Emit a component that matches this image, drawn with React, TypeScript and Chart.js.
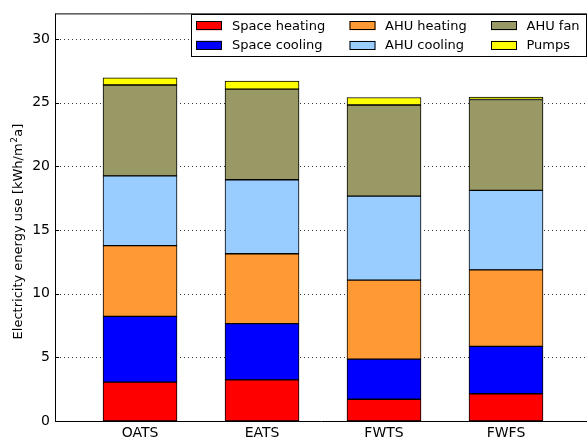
import React, { useEffect, useRef } from "react";
import { Chart, registerables } from "chart.js";

Chart.register(...registerables);

const categories = ["OATS", "EATS", "FWTS", "FWFS"];
const spaceHeating = [3.05, 3.23, 1.71, 2.14];
const spaceCooling = [5.17, 4.42, 3.15, 3.72];
const ahuHeating = [5.55, 5.48, 6.2, 6.0];
const ahuCooling = [5.48, 5.81, 6.59, 6.25];
const ahuFan = [7.13, 7.11, 7.16, 7.13];
const pumps = [0.57, 0.64, 0.59, 0.19];

const seriesNames = ["Space heating", "Space cooling", "AHU heating", "AHU cooling", "AHU fan", "Pumps"];
const seriesValues = [spaceHeating, spaceCooling, ahuHeating, ahuCooling, ahuFan, pumps];
const seriesColors = ["#ff0000", "#0000ff", "#ff9933", "#99ccff", "#999966", "#ffff00"];
const yTickValues = [0, 5, 10, 15, 20, 25, 30];
const yTitleMain = "Electricity energy use [kWh/m";
const yTitleSup = "2";
const yTitleTail = "a]";

const FONT = "'DejaVu Sans', sans-serif";

const customPlugin = {
  id: "mplStyle",
  beforeDatasetsDraw(chart: any) {
    const ctx = chart.ctx;
    const { left, right } = chart.chartArea;
    const y = chart.scales.y;
    ctx.save();
    ctx.strokeStyle = "#333";
    ctx.lineWidth = 1;
    ctx.setLineDash([1, 3]);
    yTickValues.forEach((v) => {
      if (v === 0) return;
      const py = Math.round(y.getPixelForValue(v)) + 0.5;
      ctx.beginPath();
      ctx.moveTo(left + 5, py);
      ctx.lineTo(right, py);
      ctx.stroke();
    });
    ctx.setLineDash([]);
    ctx.strokeStyle = "#000";
    yTickValues.forEach((v) => {
      if (v === 0) return;
      const py = Math.round(y.getPixelForValue(v)) + 0.5;
      ctx.beginPath();
      ctx.moveTo(left, py);
      ctx.lineTo(left + 4, py);
      ctx.stroke();
    });
    ctx.restore();
  },
  afterDatasetsDraw(chart: any) {
    const ctx = chart.ctx;
    const { left, right, top, bottom } = chart.chartArea;
    ctx.save();
    ctx.strokeStyle = "#000";
    ctx.lineWidth = 1;
    ctx.setLineDash([]);
    ctx.beginPath();
    ctx.moveTo(left + 0.5, top + 0.5);
    ctx.lineTo(right + 2, top + 0.5);
    ctx.moveTo(left + 0.5, top);
    ctx.lineTo(left + 0.5, bottom + 1);
    ctx.moveTo(left, bottom + 0.5);
    ctx.lineTo(right + 2, bottom + 0.5);
    ctx.stroke();

    const lx = 191.5, ly = 14.5, lw = 395, lh = 42;
    ctx.fillStyle = "#fff";
    ctx.fillRect(lx, ly, lw, lh);
    ctx.strokeRect(lx, ly, lw, lh);
    const colX = [196, 349.5, 491];
    const rowY = [25.7, 45.3];
    const textOff = [36, 35.5, 35.5];
    ctx.font = "13px " + FONT;
    ctx.textBaseline = "middle";
    ctx.textAlign = "left";
    seriesNames.forEach((name, i) => {
      const c = Math.floor(i / 2);
      const r = i % 2;
      const sx = colX[c];
      const sy = rowY[r];
      ctx.fillStyle = seriesColors[i];
      ctx.fillRect(sx, sy - 4.5, 26, 9);
      ctx.strokeStyle = "#000";
      ctx.strokeRect(sx + 0.5, Math.round(sy - 4.5) + 0.5, 25, 8);
      ctx.fillStyle = "#000";
      ctx.fillText(name, sx + textOff[c], sy + 0.5);
    });

    ctx.translate(22, 231.5);
    ctx.rotate(-Math.PI / 2);
    ctx.fillStyle = "#000";
    ctx.textBaseline = "alphabetic";
    ctx.font = "13px " + FONT;
    const w1 = ctx.measureText(yTitleMain).width;
    const w3 = ctx.measureText(yTitleTail).width;
    ctx.font = "9px " + FONT;
    const w2 = ctx.measureText(yTitleSup).width + 1;
    const total = w1 + w2 + w3;
    let x = -total / 2;
    ctx.font = "13px " + FONT;
    ctx.fillText(yTitleMain, x, 0);
    x += w1;
    ctx.font = "9px " + FONT;
    ctx.fillText(yTitleSup, x + 0.5, -5);
    x += w2;
    ctx.font = "13px " + FONT;
    ctx.fillText(yTitleTail, x, 0);
    ctx.restore();
  },
};

export default function App() {
  const ref = useRef<HTMLCanvasElement | null>(null);
  useEffect(() => {
    if (!ref.current) return;
    const chart = new Chart(ref.current, {
      type: "bar",
      data: {
        datasets: seriesNames.map((name, i) => ({
          label: name,
          data: seriesValues[i].map((v, j) => ({ x: j, y: v })),
          backgroundColor: seriesColors[i],
          borderColor: "#000",
          borderWidth: 1,
          borderSkipped: false,
          barThickness: 74,
          stack: "s",
        })),
      },
      options: {
        responsive: false,
        animation: false,
        layout: { padding: { top: 8, left: 0, right: 0, bottom: 0 } },
        plugins: { legend: { display: false }, tooltip: { enabled: false } },
        scales: {
          x: {
            type: "linear",
            stacked: true,
            offset: false,
            min: -0.697,
            max: 3.664,
            grid: { display: false, drawTicks: false, offset: false },
            border: { display: false },
            afterBuildTicks: (scale: any) => {
              scale.ticks = categories.map((_, i) => ({ value: i }));
            },
            afterFit: (scale: any) => {
              scale.height = 18;
            },
            ticks: {
              autoSkip: false,
              maxRotation: 0,
              padding: 4,
              color: "#000",
              font: { family: FONT, size: 14 },
              callback: (v: any) => categories[Math.round(Number(v))] ?? "",
            },
          },
          y: {
            stacked: true,
            min: 0,
            max: 32,
            grid: { display: false, drawTicks: false },
            border: { display: false },
            afterBuildTicks: (scale: any) => {
              scale.ticks = yTickValues.map((v) => ({ value: v }));
            },
            afterFit: (scale: any) => {
              scale.width = 55;
            },
            ticks: {
              padding: 5,
              color: "#000",
              font: { family: FONT, size: 14 },
            },
          },
        },
      },
      plugins: [customPlugin],
    } as any);
    return () => chart.destroy();
  }, []);
  return (
    <div style={{ position: "absolute", left: 0, top: 0, width: 587, height: 439, background: "#fff" }}>
      <canvas ref={ref} width={587} height={439} style={{ display: "block" }} />
    </div>
  );
}
